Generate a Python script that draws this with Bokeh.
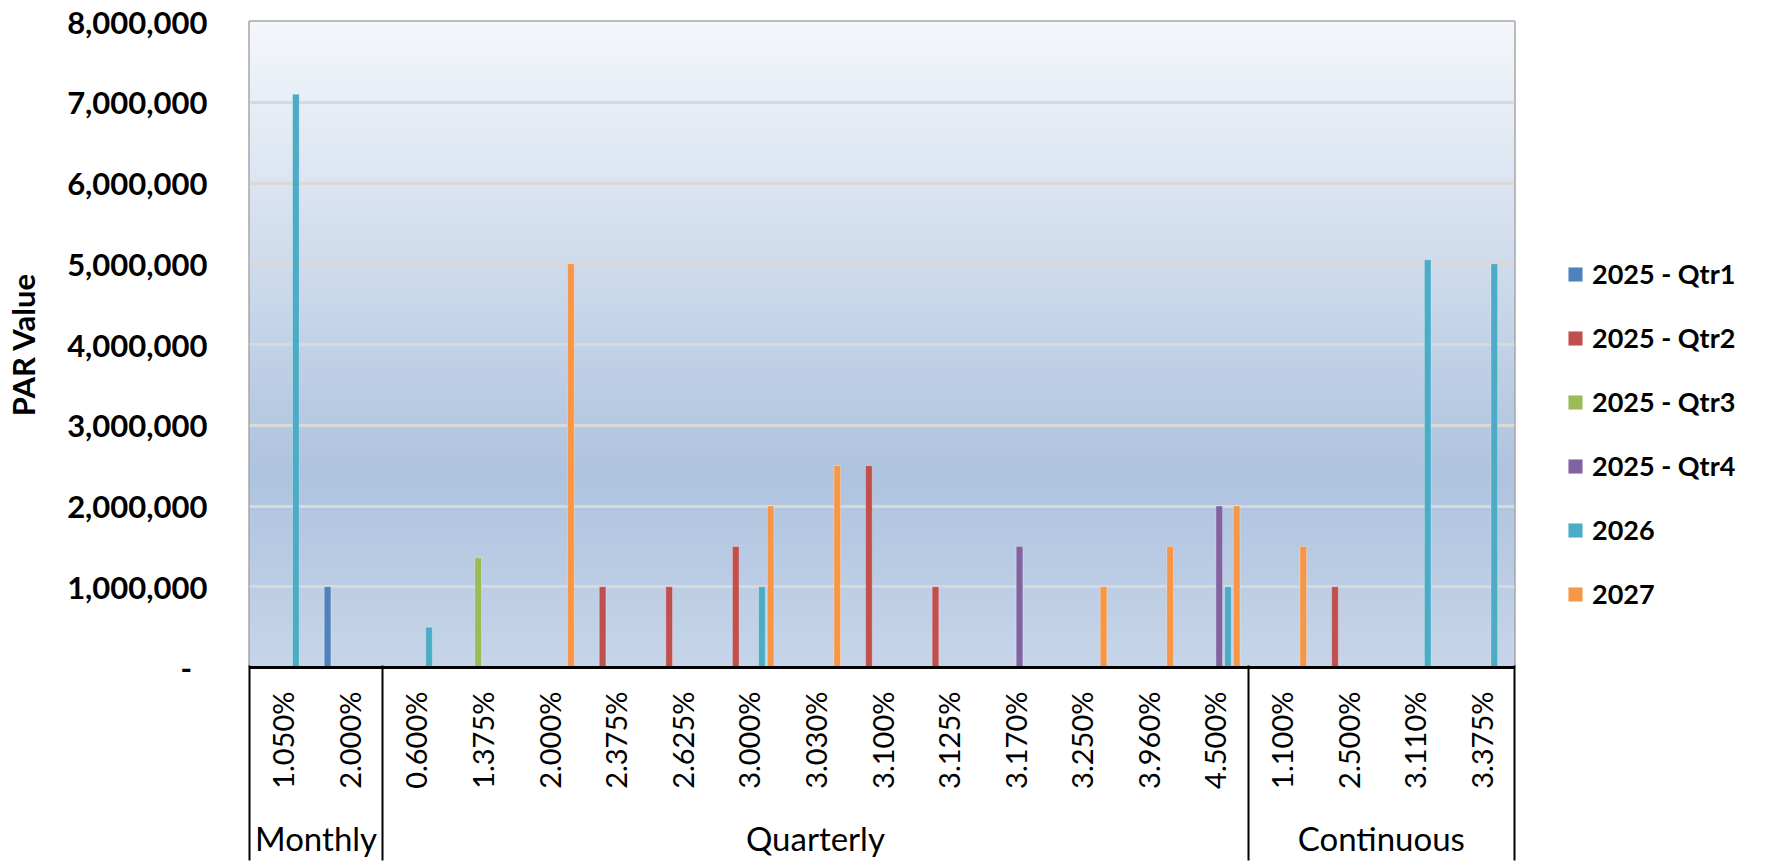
import math

import numpy as np
from bokeh.embed import file_html
from bokeh.layouts import row
from bokeh.models import (ColumnDataSource, FixedTicker, Grid, Legend, LegendItem,
                          LinearAxis, NumeralTickFormatter, Range1d)
from bokeh.plotting import figure
from bokeh.resources import INLINE
from bokeh.transform import dodge

# Category structure: coupon rates grouped by payment frequency
groups = ["Monthly", "Quarterly", "Continuous"]
group_sizes = [2, 13, 4]
rates = ["1.050%", "2.000%",
         "0.600%", "1.375%", "2.000%", "2.375%", "2.625%", "3.000%", "3.030%",
         "3.100%", "3.125%", "3.170%", "3.250%", "3.960%", "4.500%",
         "1.100%", "2.500%", "3.110%", "3.375%"]

series_names = ["2025 - Qtr1", "2025 - Qtr2", "2025 - Qtr3", "2025 - Qtr4", "2026", "2027"]
series_colors = ["#4F81BD", "#C0504D", "#9BBB59", "#8064A2", "#4BACC6", "#F79646"]

# PAR value per rate (None = no holding in that period)
N = None
qtr1 = [N, 1000000, N, N, N, N, N, N, N, N, N, N, N, N, N, N, N, N, N]
qtr2 = [N, N, N, N, N, 1000000, 1000000, 1500000, N, 2500000, 1000000, N, N, N, N, N, 1000000, N, N]
qtr3 = [N, N, N, 1360000, N, N, N, N, N, N, N, N, N, N, N, N, N, N, N]
qtr4 = [N, N, N, N, N, N, N, N, N, N, N, 1500000, N, N, 2000000, N, N, N, N]
y2026 = [7100000, N, 500000, N, N, N, N, 1000000, N, N, N, N, N, N, 1000000, N, N, 5050000, 5000000]
y2027 = [N, N, N, N, 5000000, N, N, 2000000, 2500000, N, N, N, 1000000, 1500000, 2000000, 1500000, N, N, N]
series_values = [qtr1, qtr2, qtr3, qtr4, y2026, y2027]

y_ticks = [0, 1000000, 2000000, 3000000, 4000000, 5000000, 6000000, 7000000, 8000000]
y_max = 8000000

FONT = "Lato"

n = len(rates)
centers = [i + 0.5 for i in range(n)]
bounds = [0]
for s in group_sizes:
    bounds.append(bounds[-1] + s)
group_centers = [(bounds[i] + bounds[i + 1]) / 2 for i in range(len(groups))]

p = figure(width=1516, height=862,
           x_range=Range1d(0, n), y_range=Range1d(0, y_max),
           x_axis_type=None, y_axis_type=None,
           toolbar_location=None, output_backend="svg",
           min_border_left=249, min_border_right=2,
           min_border_top=21, min_border_bottom=195,
           background_fill_color="white", border_fill_color="white")
p.outline_line_color = "#A6A6A6"
p.outline_line_width = 2.5

# plot-area gradient fill (light at top, deepest blue low in the frame)
stops = [(0.0, (0xF4, 0xF7, 0xFB)), (0.70, (0xAE, 0xC3, 0xDF)), (1.0, (0xC6, 0xD5, 0xE9))]
rows = 400
img = np.empty((rows, 1), dtype=np.uint32)
view = img.view(dtype=np.uint8).reshape((rows, 1, 4))
for r in range(rows):
    t = 1.0 - (r + 0.5) / rows  # distance from the top, 0..1
    for j in range(len(stops) - 1):
        t0, c0 = stops[j]
        t1, c1 = stops[j + 1]
        if t0 <= t <= t1:
            f = (t - t0) / (t1 - t0)
            col = [round(a + (b - a) * f) for a, b in zip(c0, c1)]
            break
    view[r, 0, 0], view[r, 0, 1], view[r, 0, 2] = col
    view[r, 0, 3] = 255
p.image_rgba(image=[img], x=0, y=0, dw=n, dh=y_max, level="image")

# clustered columns
slot = 0.131
bar_w = 0.1
for k, (vals, color) in enumerate(zip(series_values, series_colors)):
    src = ColumnDataSource(dict(x=centers, top=[np.nan if v is None else v for v in vals]))
    p.vbar(x=dodge("x", (k - 2.5) * slot), top="top", width=bar_w, source=src,
           fill_color=color, line_color="white", line_alpha=0.3, line_width=1)

# y axis and horizontal grid
yt = FixedTicker(ticks=y_ticks)
ya = LinearAxis(ticker=yt, formatter=NumeralTickFormatter(format="0,0"),
                major_label_overrides={0: "-\u2002"},
                axis_line_color=None, major_tick_in=0, major_tick_out=0,
                minor_tick_in=0, minor_tick_out=0,
                major_label_standoff=42,
                major_label_text_font=FONT, major_label_text_font_style="bold",
                major_label_text_font_size="31px", major_label_text_color="black",
                axis_label="PAR Value", axis_label_standoff=22,
                axis_label_text_font=FONT, axis_label_text_font_style="bold",
                axis_label_text_font_size="31px", axis_label_text_color="black")
p.add_layout(ya, "left")
p.add_layout(Grid(dimension=1, ticker=yt, grid_line_color="#D9D9D9", grid_line_width=3))

# inner category labels (rates)
xa = LinearAxis(ticker=FixedTicker(ticks=centers),
                major_label_overrides={c: lab for c, lab in zip(centers, rates)},
                major_label_orientation=math.pi / 2, major_label_standoff=24,
                major_tick_in=0, major_tick_out=0, major_tick_line_color=None,
                minor_tick_in=0, minor_tick_out=0, minor_tick_line_color=None,
                axis_line_color="black", axis_line_width=3,
                major_label_text_font=FONT, major_label_text_font_size="29px",
                major_label_text_color="black")
p.add_layout(xa, "below")

# outer group labels
ga = LinearAxis(ticker=FixedTicker(ticks=group_centers),
                major_label_overrides={c: g for c, g in zip(group_centers, groups)},
                major_label_orientation="horizontal", major_label_standoff=26,
                major_tick_in=0, major_tick_out=0, major_tick_line_color=None,
                minor_tick_in=0, minor_tick_out=0, minor_tick_line_color=None,
                axis_line_color=None,
                major_label_text_font=FONT, major_label_text_font_size="33px",
                major_label_text_color="black")
p.add_layout(ga, "below")

# group separators: inward minor ticks from the bottom edge up to the category axis
sa = LinearAxis(ticker=FixedTicker(ticks=[], minor_ticks=bounds),
                major_label_standoff=0, major_tick_in=0, major_tick_out=0,
                minor_tick_in=195, minor_tick_out=0,
                minor_tick_line_color="black", minor_tick_line_width=2,
                axis_line_color=None)
p.add_layout(sa, "below")

# legend panel to the right of the chart, keyed with the same series styles;
# each key renderer holds one bar placed outside its visible range
lp = figure(width=267, height=862, x_range=Range1d(0, 1), y_range=Range1d(0, 1),
            x_axis_type=None, y_axis_type=None,
            toolbar_location=None, output_backend="svg", min_border=0,
            outline_line_color=None,
            background_fill_color="white", border_fill_color="white")
keys = []
for nm, color in zip(series_names, series_colors):
    kr = lp.vbar(x=[5], top=[1], width=0.1, fill_color=color,
                 line_color="white", line_alpha=0.3, line_width=1)
    keys.append(LegendItem(label=nm, renderers=[kr]))
legend = Legend(items=keys, location=(50, 57), orientation="vertical",
                background_fill_alpha=0, border_line_color=None,
                padding=0, margin=0, spacing=31,
                glyph_width=18, glyph_height=18, label_standoff=8,
                label_text_font=FONT, label_text_font_style="bold",
                label_text_font_size="27px", label_text_color="black")
lp.add_layout(legend)

layout = row(p, lp)
open("out.html", "w").write(file_html(layout, INLINE))
